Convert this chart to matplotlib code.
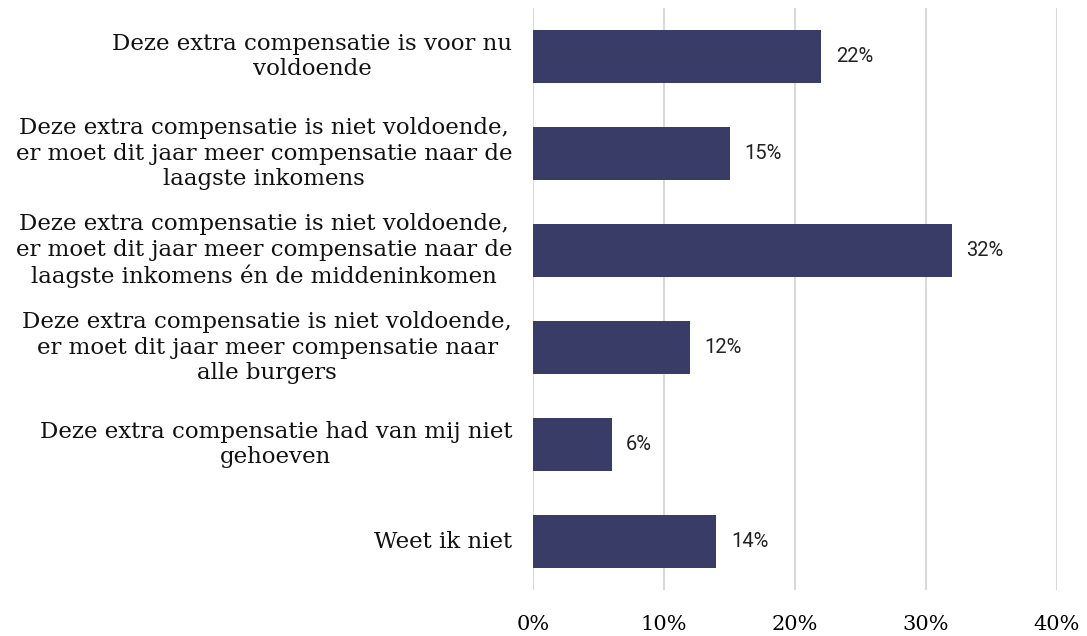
import matplotlib
matplotlib.use("Agg")
import matplotlib.pyplot as plt

labels = [
    "Deze extra compensatie is voor nu\nvoldoende",
    "Deze extra compensatie is niet voldoende,\ner moet dit jaar meer compensatie naar de\nlaagste inkomens",
    "Deze extra compensatie is niet voldoende,\ner moet dit jaar meer compensatie naar de\nlaagste inkomens én de middeninkomen",
    "Deze extra compensatie is niet voldoende,\ner moet dit jaar meer compensatie naar\nalle burgers",
    "Deze extra compensatie had van mij niet\ngehoeven",
    "Weet ik niet",
]
values = [22, 15, 32, 12, 6, 14]
xticks = [0, 10, 20, 30, 40]

fig = plt.figure(figsize=(10.87, 6.36), dpi=100)
ax = fig.add_axes([0.4904, 0.0723, 0.4820, 0.9151])

pos = list(range(len(values)))
ax.barh(pos, values, height=0.55, color="#393c67", zorder=3)
for p, v in zip(pos, values):
    ax.text(v + 1.1, p, f"{v}%", va="center", ha="left", fontsize=14.5,
            family="Roboto", color="#222222")

ax.set_ylim(5.5, -0.5)
ax.set_xlim(0, 40)
ax.set_yticks(pos)
ax.set_yticklabels([])
for p, lab in zip(pos, labels):
    ax.text(-1.6, p, lab, ha="right", va="center", multialignment="center",
            fontsize=16.5, family="DejaVu Serif", linespacing=1.22,
            color="#111111")

ax.set_xticks(xticks)
ax.set_xticklabels([f"{t}%" for t in xticks], fontsize=15, family="DejaVu Serif")
ax.tick_params(axis="x", length=0, pad=18)
ax.tick_params(axis="y", length=0)
ax.grid(axis="x", color="#d9d9d9", linewidth=1.5, zorder=0)
for s in ax.spines.values():
    s.set_visible(False)

fig.savefig("out.png", dpi=100)
